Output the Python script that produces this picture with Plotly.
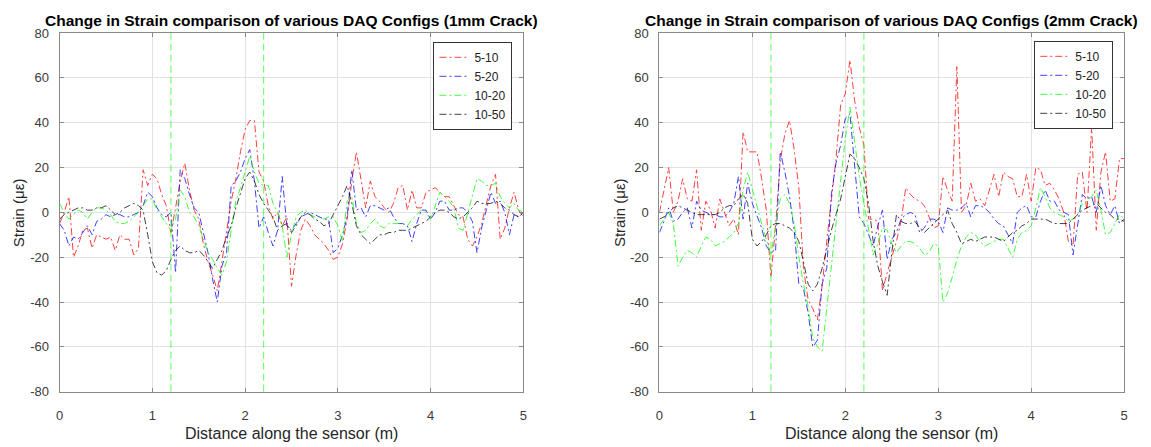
import plotly.graph_objects as go

# ---- data ----
distance = [round(i * 0.05, 2) for i in range(101)]  # sampling positions along the sensor (m)
series_names = ["5-10", "5-20", "10-20", "10-50"]
series_colors = ["#ff0000", "#0000ff", "#00ff00", "#000000"]
crack_positions = [1.2, 2.2]
y_ticks = [-80, -60, -40, -20, 0, 20, 40, 60, 80]
y_tick_labels = ["-80", "-60", "-40", "-20", "0", "20", "40", "60", "80"]
x_ticks = [0, 1, 2, 3, 4, 5]
x_tick_labels = ["0", "1", "2", "3", "4", "5"]

left_5_10 = [-5, 0, 7, -20, -15, -8, -7, -16, -10, -11,
             -12, -11, -17, -10, -12, -12, -19, -16, 19, 12,
             17, 15, 8, 3, -9, 2, 14, 22, 10, 1,
             -3, -14, -22, -28, -35, -22, -9, 5, 15, 27,
             37, 41, 41, 18, 14, 3, -3, 0, -6, -2,
             -33, -19, -8, -3, -6, -10, -12, -14, -17, -21,
             -20, -14, -3, 14, 27, 14, 2, 14, 7, 5,
             2, 0, 4, 11, 12, 1, 10, 2, 2, 9,
             10, 11, 9, 7, 7, 3, -1, -2, -12, -15,
             -11, -5, 3, 12, 17, -12, -7, 2, 9, 1,
             -2]
left_5_20 = [-5, -8, -15, -11, -12, -9, -6, -10, -4, -3,
             -1, -2, -1, -1, -2, -2, -1, 0, 3, 9,
             7, 2, -1, -2, 0, -27, 19, 15, 8, 2,
             0, -9, -18, -30, -40, -24, -18, 12, 14, 18,
             24, 28, 14, -7, -2, -9, -15, -8, 16, -6,
             -8, -5, -2, -1, 0, -1, -2, -3, -3, -18,
             -16, -10, -2, 19, 1, 2, -2, 3, 3, 2,
             1, 2, -2, -5, -5, -6, -13, -5, 1, 1,
             -3, 0, 5, 5, 1, 1, 2, 2, 0, -4,
             -18, -7, 1, 9, 4, 5, 0, -10, -1, -2,
             0]
left_10_20 = [4, 0, -3, -1, 1, 0, -3, 0, 2, 2,
              1, -1, -4, -5, -5, -4, -2, 0, 3, 6,
              6, 1, -2, -5, -8, -3, 10, 7, 0, -2,
              -6, -12, -18, -21, -25, -28, -22, -8, 5, 11,
              18, 25, 18, 13, 12, 12, 4, 0, -6, -20,
              -10, -2, 0, 1, -1, -2, -2, -3, -2, -2,
              -6, -13, 5, 7, -5, -9, -8, -5, -3, -6,
              -7, -5, -5, -5, -5, -6, -3, -1, 1, 0,
              -3, 3, 9, 7, 5, 2, -7, -8, 0, 7,
              15, 14, 12, 12, 13, 7, 4, 2, 4, 1,
              0]
left_10_50 = [-3, -1, 0, 1, 2, 2, 1, 1, 2, 2,
              3, 1, -1, 0, 2, 3, 4, 3, 1, -10,
              -22, -27, -28, -26, -21, -17, -15, -17, -18, -18,
              -17, -19, -22, -25, -21, -17, -11, -6, 2, 9,
              15, 18, 14, 8, 4, 1, -2, -8, -6, -5,
              -9, -6, -2, 0, -1, -3, -4, -6, -5, -1,
              3, 7, 12, 4, -6, -10, -12, -14, -12, -10,
              -10, -9, -9, -8, -8, -8, -7, -6, -5, -4,
              -2, 0, 1, 1, 0, -2, -3, -2, 0, 2,
              5, 4, 4, 4, 5, 4, 2, 1, -1, -2,
              0]

right_5_10 = [0, 10, 20, 0, 5, 15, 6, 5, 19, -8,
              5, 1, -7, 6, 0, -6, -3, -10, 36, 27,
              27, 27, 15, 1, -29, -6, 23, 35, 41, 28,
              11, -25, -39, -43, -48, -33, -13, 7, 24, 48,
              53, 68, 50, 38, 30, -3, -3, -4, -35, -27,
              -20, -13, -4, 11, 8, 6, 5, 3, -2, -7,
              -6, 16, 10, 5, 65, 0, 3, 13, 5, 6,
              3, 10, 17, 7, 18, 16, 15, 7, 7, 17,
              5, 20, 19, 12, 13, 10, 6, 0, -13, -15,
              17, 18, 0, 38, -8, 18, 27, 5, 6, 24,
              24]
right_5_20 = [-9, -4, 2, -4, -3, 0, 2, -7, 5, 1,
              0, -1, -1, -2, -2, 0, 4, 16, -3, 13,
              4, -2, -7, -15, -18, -17, 27, 18, 7, -8,
              -32, -34, -45, -60, -57, -32, -25, 8, 22, 30,
              42, 44, 21, -2, -5, -10, -15, -6, 1, -21,
              -12, -9, -3, -1, 0, -1, -9, -7, -3, -3,
              -4, -9, 2, 1, 1, 2, 4, -2, 3, 3,
              2, 0, -3, -5, -6, -10, -14, 0, 2, 3,
              -2, -2, 5, 10, 5, 5, 1, 0, -1, -19,
              -6, 8, 6, 7, 0, 12, 3, -1, 3, -5,
              -3]
right_10_20 = [-6, -3, 0, -5, -24, -20, -17, -18, -20, -15,
               -11, -12, -15, -14, -13, -11, -9, -5, 10, 18,
               10, 3, -5, -12, -19, -6, 6, 8, 4, -5,
               -20, -32, -42, -56, -60, -62, -43, -22, -5, 13,
               33, 47, 32, 16, 4, -7, -19, -14, -7, -8,
               -14, -18, -15, -13, -13, -14, -16, -19, -18, -14,
               -15, -40, -36, -29, -21, -15, -11, -9, -10, -13,
               -15, -14, -13, -12, -12, -16, -20, -12, -9, -8,
               -6, 2, 11, 7, 2, 0, -1, -2, -4, -3,
               -1, 4, 5, 7, 10, 1, -10, -9, -5, -1,
               -3]
right_10_50 = [-3, -2, 0, 2, 3, 2, 1, 0, -1, -1,
               -1, -1, -1, 0, 2, 3, 3, 6, 8, 4,
               -12, -15, -13, -10, -6, -5, -5, -6, -7, -9,
               -13, -22, -32, -35, -32, -25, -16, -8, -1, 6,
               16, 26, 24, 20, 15, 4, -13, -24, -31, -37,
               -18, -1, -4, -5, -5, -4, -7, -9, -7, -5,
               -3, -1, 1, -5, -9, -14, -13, -12, -13, -12,
               -11, -11, -11, -12, -13, -11, -9, -8, -6, -5,
               -3, -3, -3, -3, -4, -5, -5, -5, -5, -3,
               -1, 1, 2, 3, 4, 2, 0, -1, -3, -3,
               -4]

titles = ["Change in Strain comparison of various DAQ Configs (1mm Crack)",
          "Change in Strain comparison of various DAQ Configs (2mm Crack)"]
x_title = "Distance along the sensor (m)"
y_title = "Strain (με)"

# ---- figure ----
W, H = 1151, 447
FONT = "Liberation Sans, Arial, sans-serif"
fig = go.Figure()

panels = [
    ([left_5_10, left_5_20, left_10_20, left_10_50], "x", "y", "legend"),
    ([right_5_10, right_5_20, right_10_20, right_10_50], "x2", "y2", "legend2"),
]
for vals, xa, ya, lg in panels:
    for name, color, v in zip(series_names, series_colors, vals):
        fig.add_trace(go.Scatter(
            x=distance, y=v, name=name, mode="lines",
            line=dict(color=color, width=1, dash="7px,3px,2px,3px"),
            opacity=0.75, xaxis=xa, yaxis=ya, legend=lg))

# crack markers
for xa, ya in [("x", "y"), ("x2", "y2")]:
    for cp in crack_positions:
        fig.add_shape(type="line", xref=xa, yref=f"{ya} domain",
                      x0=cp, x1=cp, y0=0, y1=1, opacity=0.65,
                      line=dict(color="#00ff00", width=1, dash="7px,4px"))

px_l = (56, 523)
px_r = (660, 1128)
y_dom = ((H - 398) / H, (H - 27) / H)

axis_common = dict(showgrid=True, gridcolor="#e2e2e2", gridwidth=1,
                   showline=True, linecolor="#8a8a8a", linewidth=1, mirror="ticks",
                   ticks="inside", ticklen=4, tickcolor="#8a8a8a",
                   zeroline=False, tickfont=dict(family=FONT, size=13, color="#3a3a3a"))

xa_opts = dict(range=[0, 5], tickvals=x_ticks, ticktext=x_tick_labels, ticklabelstandoff=12, **axis_common)
ya_opts = dict(range=[-80, 80], tickvals=y_ticks, ticktext=y_tick_labels, ticklabelstandoff=7, **axis_common)

fig.update_layout(
    width=W, height=H,
    margin=dict(l=0, r=0, t=0, b=0),
    paper_bgcolor="white", plot_bgcolor="white",
    font=dict(family=FONT),
    xaxis=dict(domain=[px_l[0] / W, px_l[1] / W], anchor="y", **xa_opts),
    yaxis=dict(domain=list(y_dom), anchor="x", **ya_opts),
    xaxis2=dict(domain=[px_r[0] / W, px_r[1] / W], anchor="y2", **xa_opts),
    yaxis2=dict(domain=list(y_dom), anchor="x2", **ya_opts),
    legend=dict(x=512 / W, y=1 - 36 / H, xanchor="right", yanchor="top",
                bgcolor="white", bordercolor="#333333", borderwidth=1,
                font=dict(family=FONT, size=12, color="#222222"), itemwidth=30),
    legend2=dict(x=1117 / W, y=1 - 35 / H, xanchor="right", yanchor="top",
                 bgcolor="white", bordercolor="#333333", borderwidth=1,
                 font=dict(family=FONT, size=12, color="#222222"), itemwidth=30),
)

annotations = []
for (a, b), t in zip([px_l, px_r], titles):
    cx = (a + b) / 2 / W
    annotations.append(dict(text=f"<b>{t}</b>", x=cx, y=1 - 14 / H, xref="paper", yref="paper",
                            xanchor="center", yanchor="middle", showarrow=False,
                            font=dict(family=FONT, size=15.5, color="#000000")))
    annotations.append(dict(text=x_title, x=cx, y=1 - 441 / H, xref="paper", yref="paper",
                            xanchor="center", yanchor="middle", showarrow=False,
                            font=dict(family=FONT, size=16, color="#262626")))
for xp in [14, 620]:
    annotations.append(dict(text=y_title, x=xp / W, y=1 - 212.5 / H, xref="paper", yref="paper",
                            xanchor="center", yanchor="middle", showarrow=False, textangle=-90,
                            font=dict(family=FONT, size=15, color="#262626")))
fig.update_layout(annotations=annotations)

fig.write_html("out.html")
